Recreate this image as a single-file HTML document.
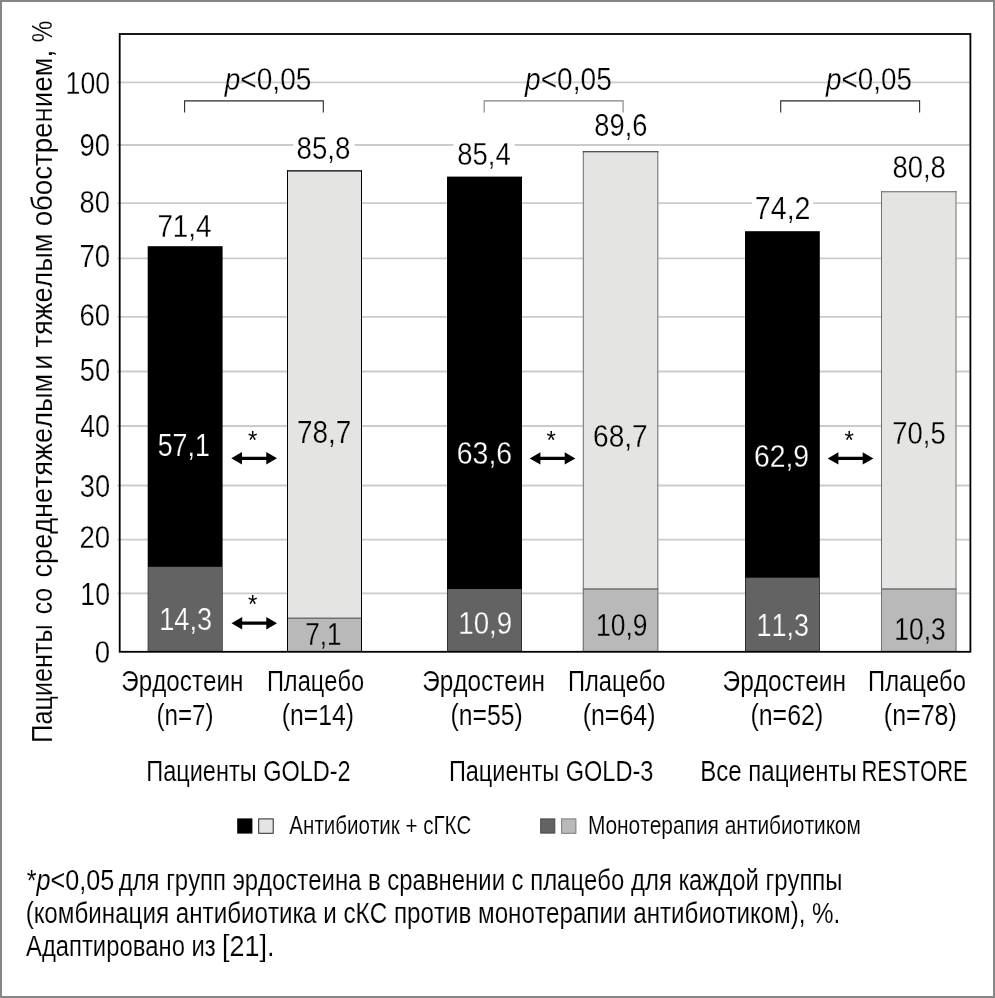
<!DOCTYPE html>
<html lang="ru"><head><meta charset="utf-8"><title>Chart</title>
<style>
html,body{margin:0;padding:0;background:#fff}
body{width:995px;height:998px;overflow:hidden}
svg{display:block;font-family:"Liberation Sans",sans-serif;font-kerning:none}
</style></head><body>
<svg width="995" height="998" viewBox="0 0 995 998">
<rect x="0" y="0" width="995" height="998" fill="#fff"/>
<line x1="117.50" y1="82.30" x2="969.50" y2="82.30" stroke="#cbcbcb" stroke-width="1.8"/>
<line x1="117.50" y1="145.00" x2="969.50" y2="145.00" stroke="#cbcbcb" stroke-width="1.8"/>
<line x1="117.50" y1="203.20" x2="969.50" y2="203.20" stroke="#cbcbcb" stroke-width="1.8"/>
<line x1="117.50" y1="258.30" x2="969.50" y2="258.30" stroke="#cbcbcb" stroke-width="1.8"/>
<line x1="117.50" y1="316.90" x2="969.50" y2="316.90" stroke="#cbcbcb" stroke-width="1.8"/>
<line x1="117.50" y1="371.50" x2="969.50" y2="371.50" stroke="#cbcbcb" stroke-width="1.8"/>
<line x1="117.50" y1="426.00" x2="969.50" y2="426.00" stroke="#cbcbcb" stroke-width="1.8"/>
<line x1="117.50" y1="485.50" x2="969.50" y2="485.50" stroke="#cbcbcb" stroke-width="1.8"/>
<line x1="117.50" y1="539.60" x2="969.50" y2="539.60" stroke="#cbcbcb" stroke-width="1.8"/>
<line x1="117.50" y1="593.30" x2="969.50" y2="593.30" stroke="#cbcbcb" stroke-width="1.8"/>
<rect x="293.30" y="136.00" width="61.20" height="24.00" fill="#fff"/>
<rect x="453.50" y="141.00" width="61.00" height="25.00" fill="#fff"/>
<rect x="752.00" y="196.00" width="61.00" height="24.00" fill="#fff"/>
<rect x="147.70" y="246.20" width="74.90" height="405.60" fill="#000"/>
<rect x="148.20" y="566.80" width="73.90" height="85.00" fill="#636363"/>
<rect x="287.00" y="170.40" width="75.00" height="481.40" fill="#e4e4e2"/>
<rect x="287.00" y="618.30" width="75.00" height="33.50" fill="#b9b9b9"/>
<line x1="287.00" y1="618.30" x2="362.00" y2="618.30" stroke="#707070" stroke-width="1.5"/>
<line x1="287.50" y1="170.40" x2="287.50" y2="651.80" stroke="#000" stroke-width="1"/>
<line x1="361.50" y1="170.40" x2="361.50" y2="651.80" stroke="#000" stroke-width="1"/>
<line x1="287.00" y1="170.90" x2="362.00" y2="170.90" stroke="#000" stroke-width="1.1"/>
<rect x="447.00" y="176.60" width="75.00" height="475.20" fill="#000"/>
<rect x="447.50" y="589.00" width="74.00" height="62.80" fill="#636363"/>
<rect x="582.80" y="151.30" width="75.50" height="500.50" fill="#e4e4e2"/>
<rect x="582.80" y="589.00" width="75.50" height="62.80" fill="#b9b9b9"/>
<line x1="582.80" y1="589.00" x2="658.30" y2="589.00" stroke="#707070" stroke-width="1.5"/>
<line x1="583.30" y1="151.30" x2="583.30" y2="651.80" stroke="#707070" stroke-width="1"/>
<line x1="657.80" y1="151.30" x2="657.80" y2="651.80" stroke="#707070" stroke-width="1"/>
<line x1="582.80" y1="151.80" x2="658.30" y2="151.80" stroke="#222" stroke-width="1.1"/>
<rect x="745.00" y="231.20" width="74.80" height="420.60" fill="#000"/>
<rect x="745.50" y="577.70" width="73.80" height="74.10" fill="#636363"/>
<rect x="881.00" y="191.20" width="75.50" height="460.60" fill="#e4e4e2"/>
<rect x="881.00" y="589.00" width="75.50" height="62.80" fill="#b9b9b9"/>
<line x1="881.00" y1="589.00" x2="956.50" y2="589.00" stroke="#707070" stroke-width="1.5"/>
<line x1="881.50" y1="191.20" x2="881.50" y2="651.80" stroke="#747474" stroke-width="1"/>
<line x1="956.00" y1="191.20" x2="956.00" y2="651.80" stroke="#747474" stroke-width="1"/>
<line x1="881.00" y1="191.70" x2="956.50" y2="191.70" stroke="#666" stroke-width="1.1"/>
<rect x="119.7" y="34" width="850.7" height="617.8" fill="none" stroke="#000" stroke-width="1.8"/>
<text transform="translate(65.57,94.00) scale(0.8516,1)" font-size="31.3" fill="#000" stroke="#fff" stroke-width="0.25">100</text>
<text transform="translate(79.51,156.00) scale(0.8778,1)" font-size="31.3" fill="#000" stroke="#fff" stroke-width="0.25">90</text>
<text transform="translate(79.61,213.00) scale(0.8749,1)" font-size="31.3" fill="#000" stroke="#fff" stroke-width="0.25">80</text>
<text transform="translate(79.39,267.00) scale(0.8816,1)" font-size="31.3" fill="#000" stroke="#fff" stroke-width="0.25">70</text>
<text transform="translate(79.40,326.00) scale(0.8812,1)" font-size="31.3" fill="#000" stroke="#fff" stroke-width="0.25">60</text>
<text transform="translate(79.71,381.00) scale(0.8720,1)" font-size="31.3" fill="#000" stroke="#fff" stroke-width="0.25">50</text>
<text transform="translate(80.18,437.00) scale(0.8578,1)" font-size="31.3" fill="#000" stroke="#fff" stroke-width="0.25">40</text>
<text transform="translate(79.76,497.00) scale(0.8704,1)" font-size="31.3" fill="#000" stroke="#fff" stroke-width="0.25">30</text>
<text transform="translate(79.41,548.00) scale(0.8807,1)" font-size="31.3" fill="#000" stroke="#fff" stroke-width="0.25">20</text>
<text transform="translate(80.37,605.00) scale(0.8523,1)" font-size="31.3" fill="#000" stroke="#fff" stroke-width="0.25">10</text>
<text transform="translate(94.72,663.00) scale(0.8822,1)" font-size="31.3" fill="#000" stroke="#fff" stroke-width="0.25">0</text>
<text transform="translate(157.38,236.70) scale(0.8899,1)" font-size="31.2" fill="#000" stroke="#fff" stroke-width="0.25">71,4</text>
<text transform="translate(296.50,158.80) scale(0.8877,1)" font-size="31.2" fill="#000" stroke="#fff" stroke-width="0.25">85,8</text>
<text transform="translate(457.31,164.60) scale(0.8810,1)" font-size="31.2" fill="#000" stroke="#fff" stroke-width="0.25">85,4</text>
<text transform="translate(594.31,136.20) scale(0.8742,1)" font-size="31.2" fill="#000" stroke="#fff" stroke-width="0.25">89,6</text>
<text transform="translate(754.83,218.60) scale(0.9174,1)" font-size="31.2" fill="#000" stroke="#fff" stroke-width="0.25">74,2</text>
<text transform="translate(892.51,178.40) scale(0.8791,1)" font-size="31.2" fill="#000" stroke="#fff" stroke-width="0.25">80,8</text>
<text transform="translate(157.73,456.00) scale(0.8576,1)" font-size="31.2" fill="#fff" stroke="#000" stroke-width="0.25">57,1</text>
<text transform="translate(297.07,443.00) scale(0.8948,1)" font-size="31.2" fill="#000" stroke="#e4e4e2" stroke-width="0.25">78,7</text>
<text transform="translate(456.75,463.70) scale(0.9123,1)" font-size="31.2" fill="#fff" stroke="#000" stroke-width="0.25">63,6</text>
<text transform="translate(593.07,447.10) scale(0.8998,1)" font-size="31.2" fill="#000" stroke="#e4e4e2" stroke-width="0.25">68,7</text>
<text transform="translate(753.96,466.90) scale(0.9087,1)" font-size="31.2" fill="#fff" stroke="#000" stroke-width="0.25">62,9</text>
<text transform="translate(892.29,444.20) scale(0.8787,1)" font-size="31.2" fill="#000" stroke="#e4e4e2" stroke-width="0.25">70,5</text>
<text transform="translate(159.23,629.60) scale(0.8723,1)" font-size="31.2" fill="#fff" stroke="#636363" stroke-width="0.25">14,3</text>
<text transform="translate(305.36,645.30) scale(0.8348,1)" font-size="31.2" fill="#000" stroke="#b9b9b9" stroke-width="0.25">7,1</text>
<text transform="translate(458.29,634.00) scale(0.8880,1)" font-size="31.2" fill="#fff" stroke="#636363" stroke-width="0.25">10,9</text>
<text transform="translate(596.09,636.20) scale(0.8475,1)" font-size="31.2" fill="#000" stroke="#b9b9b9" stroke-width="0.25">10,9</text>
<text transform="translate(756.55,636.30) scale(0.8635,1)" font-size="31.2" fill="#fff" stroke="#636363" stroke-width="0.25">11,3</text>
<text transform="translate(894.29,639.50) scale(0.8460,1)" font-size="31.2" fill="#000" stroke="#b9b9b9" stroke-width="0.25">10,3</text>
<text transform="translate(224.70,90.00) scale(0.9070,1)" font-size="31" fill="#000" stroke="#fff" stroke-width="0.25"><tspan font-style="italic">p</tspan>&lt;0,05</text>
<text transform="translate(525.10,90.00) scale(0.9059,1)" font-size="31" fill="#000" stroke="#fff" stroke-width="0.25"><tspan font-style="italic">p</tspan>&lt;0,05</text>
<text transform="translate(826.09,90.00) scale(0.8975,1)" font-size="31" fill="#000" stroke="#fff" stroke-width="0.25"><tspan font-style="italic">p</tspan>&lt;0,05</text>
<polyline points="184.6,112.4 184.6,100.9 323.3,100.9 323.3,112.4" fill="none" stroke="#2a2a2a" stroke-width="1.1"/>
<polyline points="484.2,112.4 484.2,100.9 623.1,100.9 623.1,112.4" fill="none" stroke="#808080" stroke-width="1.1"/>
<polyline points="780.7,112.4 780.7,100.9 919.6,100.9 919.6,112.4" fill="none" stroke="#2a2a2a" stroke-width="1.1"/>
<path d="M231.3,458.3 L242.0,452.1 L242.0,456.7 L266.3,456.7 L266.3,452.1 L277.0,458.3 L266.3,464.5 L266.3,459.90000000000003 L242.0,459.90000000000003 L242.0,464.5 Z" fill="#000"/>
<path d="M231.5,623.2 L242.2,617.0 L242.2,621.6 L266.3,621.6 L266.3,617.0 L277.0,623.2 L266.3,629.4000000000001 L266.3,624.8000000000001 L242.2,624.8000000000001 L242.2,629.4000000000001 Z" fill="#000"/>
<path d="M529.7,458.4 L540.4000000000001,452.2 L540.4000000000001,456.79999999999995 L564.6999999999999,456.79999999999995 L564.6999999999999,452.2 L575.4,458.4 L564.6999999999999,464.59999999999997 L564.6999999999999,460.0 L540.4000000000001,460.0 L540.4000000000001,464.59999999999997 Z" fill="#000"/>
<path d="M827.7,458.4 L838.4000000000001,452.2 L838.4000000000001,456.79999999999995 L862.6999999999999,456.79999999999995 L862.6999999999999,452.2 L873.4,458.4 L862.6999999999999,464.59999999999997 L862.6999999999999,460.0 L838.4000000000001,460.0 L838.4000000000001,464.59999999999997 Z" fill="#000"/>
<text transform="translate(248.01,448.73) scale(0.9399,1)" font-size="25.6" fill="#000">*</text>
<text transform="translate(248.01,612.83) scale(0.9399,1)" font-size="25.6" fill="#000">*</text>
<text transform="translate(546.51,448.73) scale(0.9399,1)" font-size="25.6" fill="#000">*</text>
<text transform="translate(844.51,448.73) scale(0.9399,1)" font-size="25.6" fill="#000">*</text>
<text transform="translate(121.36,691.20) scale(0.8139,1)" font-size="29.75" fill="#000" stroke="#fff" stroke-width="0.12">Эрдостеин</text>
<text transform="translate(266.88,691.20) scale(0.7946,1)" font-size="29.75" fill="#000" stroke="#fff" stroke-width="0.12">Плацебо</text>
<text transform="translate(156.40,724.60) scale(0.8293,1)" font-size="29.2" fill="#000" stroke="#fff" stroke-width="0.12">(n=7)</text>
<text transform="translate(281.76,724.60) scale(0.8493,1)" font-size="29.2" fill="#000" stroke="#fff" stroke-width="0.12">(n=14)</text>
<text transform="translate(422.15,691.20) scale(0.8200,1)" font-size="29.75" fill="#000" stroke="#fff" stroke-width="0.12">Эрдостеин</text>
<text transform="translate(567.88,691.20) scale(0.7980,1)" font-size="29.75" fill="#000" stroke="#fff" stroke-width="0.12">Плацебо</text>
<text transform="translate(450.46,724.60) scale(0.8481,1)" font-size="29.2" fill="#000" stroke="#fff" stroke-width="0.12">(n=55)</text>
<text transform="translate(582.65,724.60) scale(0.8554,1)" font-size="29.2" fill="#000" stroke="#fff" stroke-width="0.12">(n=64)</text>
<text transform="translate(722.54,691.20) scale(0.8241,1)" font-size="29.75" fill="#000" stroke="#fff" stroke-width="0.12">Эрдостеин</text>
<text transform="translate(868.07,691.20) scale(0.7997,1)" font-size="29.75" fill="#000" stroke="#fff" stroke-width="0.12">Плацебо</text>
<text transform="translate(750.45,724.60) scale(0.8542,1)" font-size="29.2" fill="#000" stroke="#fff" stroke-width="0.12">(n=62)</text>
<text transform="translate(883.85,724.60) scale(0.8566,1)" font-size="29.2" fill="#000" stroke="#fff" stroke-width="0.12">(n=78)</text>
<text transform="translate(146.29,781.00) scale(0.8057,1)" font-size="29.2" fill="#000" stroke="#fff" stroke-width="0.12">Пациенты GOLD-2</text>
<text transform="translate(448.89,781.00) scale(0.8059,1)" font-size="29.2" fill="#000" stroke="#fff" stroke-width="0.12">Пациенты GOLD-3</text>
<text transform="translate(700.13,780.60) scale(0.8239,1)" font-size="29.2" fill="#000" stroke="#fff" stroke-width="0.12">Все пациенты</text>
<text transform="translate(861.50,780.60) scale(0.7527,1)" font-size="29.2" fill="#000" stroke="#fff" stroke-width="0.12">RESTORE</text>
<rect x="237.20" y="818.40" width="15.20" height="15.20" fill="#000"/>
<rect x="258.70" y="818.90" width="14.50" height="14.40" fill="#e4e4e2" stroke="#2a2a2a" stroke-width="1"/>
<rect x="540.70" y="818.90" width="14.10" height="14.20" fill="#636363" stroke="#484848" stroke-width="1"/>
<rect x="561.60" y="818.90" width="14.30" height="14.40" fill="#b9b9b9" stroke="#7a7a7a" stroke-width="1"/>
<text transform="translate(289.36,834.00) scale(0.7903,1)" font-size="26" fill="#000" stroke="#fff" stroke-width="0.12">Антибиотик + сГКС</text>
<text transform="translate(587.98,834.00) scale(0.8042,1)" font-size="26" fill="#000" stroke="#fff" stroke-width="0.12">Монотерапия антибиотиком</text>
<text transform="translate(26.79,889.70) scale(0.8315,1)" font-size="30.3" fill="#000" stroke="#fff" stroke-width="0.12">*<tspan font-style="italic">p</tspan>&lt;0,05</text>
<text transform="translate(118.67,889.70) scale(0.7891,1)" font-size="30.3" fill="#000" stroke="#fff" stroke-width="0.12">для групп эрдостеина в сравнении с плацебо для каждой группы</text>
<text transform="translate(25.70,922.50) scale(0.7985,1)" font-size="30.3" fill="#000" stroke="#fff" stroke-width="0.12">(комбинация антибиотика и сКС против монотерапии антибиотиком), %.</text>
<text transform="translate(26.05,956.00) scale(0.7859,1)" font-size="30.3" fill="#000" stroke="#fff" stroke-width="0.12">Адаптировано из</text>
<text transform="translate(221.98,956.00) scale(0.8902,1)" font-size="30.3" fill="#000" stroke="#fff" stroke-width="0.12">[21].</text>
<text transform="translate(52.00,742.75) rotate(-90) scale(0.8505,1)" font-size="29.7" fill="#000" stroke="#fff" stroke-width="0.12">Пациенты</text>
<text transform="translate(52.00,614.15) rotate(-90) scale(0.8316,1)" font-size="29.7" fill="#000" stroke="#fff" stroke-width="0.12">со</text>
<text transform="translate(52.00,577.45) rotate(-90) scale(0.9114,1)" font-size="29.7" fill="#000" stroke="#fff" stroke-width="0.12">среднетяжелым</text>
<text transform="translate(52.00,369.77) rotate(-90) scale(0.9061,1)" font-size="29.7" fill="#000" stroke="#fff" stroke-width="0.12">и</text>
<text transform="translate(52.00,347.46) rotate(-90) scale(0.9085,1)" font-size="29.7" fill="#000" stroke="#fff" stroke-width="0.12">тяжелым</text>
<text transform="translate(52.00,226.36) rotate(-90) scale(0.9311,1)" font-size="29.7" fill="#000" stroke="#fff" stroke-width="0.12">обострением,</text>
<text transform="translate(52.00,42.16) rotate(-90) scale(0.8151,1)" font-size="29.7" fill="#000" stroke="#fff" stroke-width="0.12">%</text>
<rect x="1" y="1" width="993" height="996" fill="none" stroke="#868686" stroke-width="2"/>
</svg>
</body></html>
